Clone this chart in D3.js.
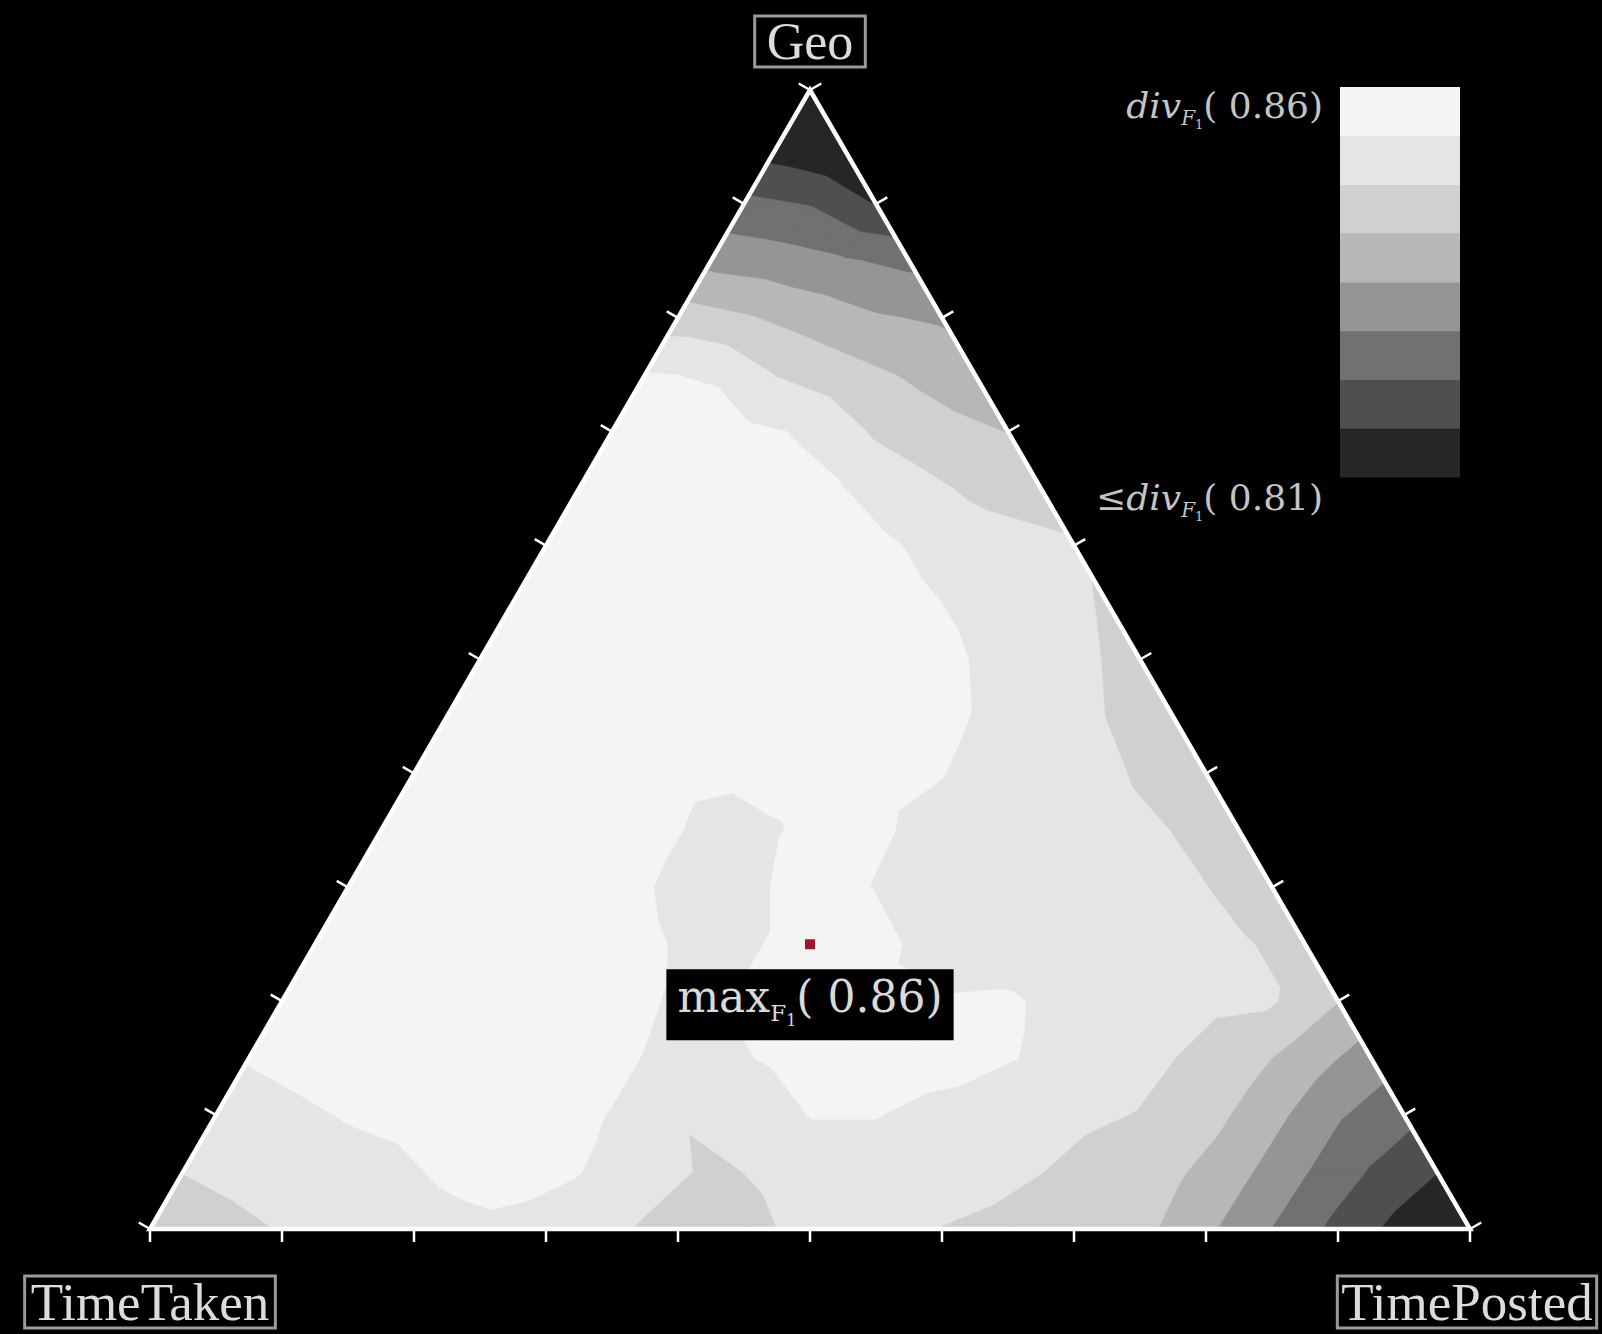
<!DOCTYPE html>
<html>
<head>
<meta charset="utf-8">
<script src="https://cdn.jsdelivr.net/npm/d3@7"></script>
<style>
  body { margin: 0; background: #000; }
  svg { display: block; }
</style>
</head>
<body>
<div id="chart"></div>
<script>
// names of the three corners (top, bottom left, bottom right)
var cornerNames = ["Geo", "TimeTaken", "TimePosted"];

// colour levels of div_F1
var divMin = 0.81, divMax = 0.86;
var bandColors = ["#262626", "#4f4f4f", "#717171", "#959595", "#b7b7b7", "#d0d0d0", "#e5e5e5", "#f4f4f4"];

// ticks along every side
var tickSteps = [0, 0.1, 0.2, 0.3, 0.4, 0.5, 0.6, 0.7, 0.8, 0.9, 1];

// best mixture
var maxPoint = {geo: 0.25, timePosted: 0.375, value: 0.86};

// div_F1 on a lattice of step 1/20, first row is Geo = 1 (top corner),
// each row goes from the TimeTaken side (left) to the TimePosted side (right)
var divRows = [
  [0.8038],
  [0.8131, 0.8100],
  [0.8241, 0.8222, 0.8159],
  [0.8331, 0.8316, 0.8294, 0.8272],
  [0.8444, 0.8419, 0.8388, 0.8356, 0.8341],
  [0.8541, 0.8534, 0.8472, 0.8438, 0.8406, 0.8379],
  [0.8556, 0.8556, 0.8550, 0.8531, 0.8466, 0.8431, 0.8411],
  [0.8569, 0.8575, 0.8569, 0.8556, 0.8539, 0.8500, 0.8463, 0.8450],
  [0.8569, 0.8581, 0.8581, 0.8575, 0.8563, 0.8550, 0.8519, 0.8494, 0.8481],
  [0.8575, 0.8588, 0.8594, 0.8588, 0.8575, 0.8563, 0.8550, 0.8525, 0.8500, 0.8469],
  [0.8575, 0.8588, 0.8594, 0.8594, 0.8588, 0.8575, 0.8569, 0.8550, 0.8519, 0.8488, 0.8456],
  [0.8575, 0.8588, 0.8594, 0.8588, 0.8575, 0.8569, 0.8563, 0.8556, 0.8536, 0.8513, 0.8474, 0.8450],
  [0.8575, 0.8588, 0.8588, 0.8581, 0.8556, 0.8547, 0.8556, 0.8550, 0.8539, 0.8513, 0.8500, 0.8469, 0.8444],
  [0.8569, 0.8581, 0.8588, 0.8581, 0.8563, 0.8519, 0.8534, 0.8563, 0.8531, 0.8513, 0.8506, 0.8494, 0.8474, 0.8444],
  [0.8563, 0.8575, 0.8581, 0.8581, 0.8569, 0.8519, 0.8513, 0.8575, 0.8534, 0.8513, 0.8506, 0.8500, 0.8494, 0.8476, 0.8444],
  [0.8563, 0.8575, 0.8575, 0.8575, 0.8569, 0.8550, 0.8513, 0.8544, 0.8594, 0.8531, 0.8513, 0.8506, 0.8500, 0.8494, 0.8481, 0.8456],
  [0.8556, 0.8569, 0.8569, 0.8569, 0.8563, 0.8556, 0.8531, 0.8544, 0.8556, 0.8550, 0.8541, 0.8544, 0.8519, 0.8500, 0.8488, 0.8481, 0.8414],
  [0.8541, 0.8556, 0.8563, 0.8563, 0.8563, 0.8556, 0.8536, 0.8525, 0.8544, 0.8556, 0.8556, 0.8550, 0.8531, 0.8506, 0.8476, 0.8444, 0.8381, 0.8319],
  [0.8506, 0.8525, 0.8541, 0.8550, 0.8556, 0.8550, 0.8536, 0.8481, 0.8506, 0.8539, 0.8539, 0.8525, 0.8506, 0.8488, 0.8472, 0.8438, 0.8369, 0.8294, 0.8244],
  [0.8476, 0.8494, 0.8513, 0.8525, 0.8544, 0.8550, 0.8539, 0.8506, 0.8463, 0.8488, 0.8519, 0.8513, 0.8500, 0.8476, 0.8450, 0.8425, 0.8366, 0.8291, 0.8219, 0.8164],
  [0.8431, 0.8456, 0.8478, 0.8500, 0.8519, 0.8531, 0.8525, 0.8488, 0.8444, 0.8456, 0.8494, 0.8506, 0.8473, 0.8456, 0.8438, 0.8431, 0.8363, 0.8286, 0.8206, 0.8138, 0.8063]
];

var width = 1602, height = 1334;
var N = divRows.length - 1;

var svg = d3.select("#chart")
  .append("svg")
    .attr("width", width)
    .attr("height", height)
    .style("background", "#000");

// horizontal position is TimePosted + Geo/2, vertical is Geo
var x = d3.scaleLinear().domain([0, 1]).range([150, 1470]);
var y = d3.scaleLinear().domain([0, 1]).range([1229, 90]);
function px(geo, tp) { return [x(tp + geo / 2), y(geo)]; }

var thresholds = d3.range(1, 8).map(function(k) { return divMin + k * (divMax - divMin) / 8; });

// lattice node: u = horizontal unit, w = geo
function node(g, j) {
  return {u: j / N + g / (2 * N), w: g / N, v: divRows[N - g][j]};
}

var triangles = [];
for (var g = 0; g < N; g++) {
  for (var j = 0; j < N - g; j++) {
    triangles.push([node(g, j), node(g, j + 1), node(g + 1, j)]);
    if (j < N - g - 1) triangles.push([node(g, j + 1), node(g + 1, j + 1), node(g + 1, j)]);
  }
}

// keep the part of a triangle where value >= level (linear inside)
function clipAbove(poly, level) {
  var out = [];
  for (var i = 0; i < poly.length; i++) {
    var a = poly[i], b = poly[(i + 1) % poly.length];
    var ain = a.v >= level, bin = b.v >= level;
    if (ain) out.push(a);
    if (ain !== bin) {
      var t = (level - a.v) / (b.v - a.v);
      out.push({u: a.u + t * (b.u - a.u), w: a.w + t * (b.w - a.w), v: level});
    }
  }
  return out;
}

var contourG = svg.append("g");
bandColors.forEach(function(col, k) {
  var level = k === 0 ? -Infinity : thresholds[k - 1];
  var d = "";
  triangles.forEach(function(tri) {
    var poly = clipAbove(tri, level);
    if (poly.length < 3) return;
    d += "M" + poly.map(function(p) { return x(p.u).toFixed(2) + "," + y(p.w).toFixed(2); }).join("L") + "Z";
  });
  contourG.append("path")
    .attr("d", d)
    .attr("fill", col)
    .attr("stroke", col)
    .attr("stroke-width", 0.6)
    .attr("stroke-linejoin", "round");
});

// triangle frame
var apexPt = px(1, 0), blPt = px(0, 0), brPt = px(0, 1);
svg.append("path")
  .attr("d", "M" + apexPt + "L" + blPt + "L" + brPt + "Z")
  .attr("fill", "none")
  .attr("stroke", "#fff")
  .attr("stroke-width", 4.5)
  .attr("stroke-linejoin", "miter");

// ticks
var tl = 13, c30 = Math.cos(Math.PI / 6), s30 = 0.5;
var tickG = svg.append("g").attr("stroke", "#fff").attr("stroke-width", 2.5);
tickSteps.forEach(function(t) {
  var p = px(0, t);
  tickG.append("line").attr("x1", p[0]).attr("y1", p[1]).attr("x2", p[0]).attr("y2", p[1] + tl);
  p = px(t, 0);
  tickG.append("line").attr("x1", p[0]).attr("y1", p[1]).attr("x2", p[0] - tl * c30).attr("y2", p[1] - tl * s30);
  p = px(t, 1 - t);
  tickG.append("line").attr("x1", p[0]).attr("y1", p[1]).attr("x2", p[0] + tl * c30).attr("y2", p[1] - tl * s30);
});

// corner labels in boxes
function boxedLabel(txt, cx, baseline, size, pad) {
  var g = svg.append("g");
  var t = g.append("text")
    .attr("x", cx).attr("y", baseline)
    .attr("text-anchor", "middle")
    .attr("font-family", "'Liberation Serif', 'DejaVu Serif', serif")
    .attr("font-size", size)
    .attr("fill", "#dcdcdc")
    .text(txt);
  var bb = t.node().getBBox();
  g.insert("rect", "text")
    .attr("x", bb.x - pad[0]).attr("y", bb.y - pad[1])
    .attr("width", bb.width + 2 * pad[0]).attr("height", bb.height + 2 * pad[1])
    .attr("fill", "#000")
    .attr("stroke", "#9a9a9a")
    .attr("stroke-width", 3);
}
boxedLabel(cornerNames[0], apexPt[0], 59, 52, [12, -3]);
boxedLabel(cornerNames[1], blPt[0], 1320, 53, [6, -3]);
boxedLabel(cornerNames[2], brPt[0] - 3, 1320, 53, [4, -3]);

// maximum marker
var mp = px(maxPoint.geo, maxPoint.timePosted);
svg.append("rect")
  .attr("x", mp[0] - 5).attr("y", mp[1] - 5)
  .attr("width", 10).attr("height", 10)
  .attr("fill", "#a8142f");

var maxG = svg.append("g");
var maxT = maxG.append("text")
  .attr("x", mp[0]).attr("y", mp[1] + 68)
  .attr("text-anchor", "middle")
  .attr("font-family", "'DejaVu Serif', serif")
  .attr("font-size", 44)
  .attr("fill", "#dadada");
maxT.append("tspan").text("max");
maxT.append("tspan").attr("font-size", 23).attr("dy", 9).text("F");
maxT.append("tspan").attr("font-size", 16).attr("dy", 5).text("1");
maxT.append("tspan").attr("dy", -14).text("( " + maxPoint.value.toFixed(2) + ")");
var mbb = maxT.node().getBBox();
maxG.insert("rect", "text")
  .attr("x", mbb.x - 11).attr("y", mbb.y - 2)
  .attr("width", mbb.width + 22).attr("height", mbb.height + 12)
  .attr("fill", "#000");

// colour bar legend
var legY = d3.scaleBand().domain(d3.range(8).reverse()).range([87, 477]);
svg.append("g").selectAll("rect")
  .data(bandColors)
  .enter()
  .append("rect")
    .attr("x", 1340)
    .attr("y", function(d, i) { return legY(i); })
    .attr("width", 120)
    .attr("height", legY.bandwidth() + 0.5)
    .attr("fill", function(d) { return d; });

function legendLabel(prefix, val, yb) {
  var t = svg.append("text")
    .attr("x", 1323).attr("y", yb)
    .attr("text-anchor", "end")
    .attr("font-family", "'DejaVu Serif', serif")
    .attr("font-size", 36)
    .attr("fill", "#c4c4c4");
  t.append("tspan").attr("font-style", "italic").text(prefix + "div");
  t.append("tspan").attr("font-style", "italic").attr("font-size", 20).attr("dy", 7).text("F");
  t.append("tspan").attr("font-size", 13).attr("dy", 4).text("1");
  t.append("tspan").attr("dy", -11).text("( " + val.toFixed(2) + ")");
}
legendLabel("", divMax, 118);
legendLabel("\u2264", divMin, 510);
</script>
</body>
</html>
